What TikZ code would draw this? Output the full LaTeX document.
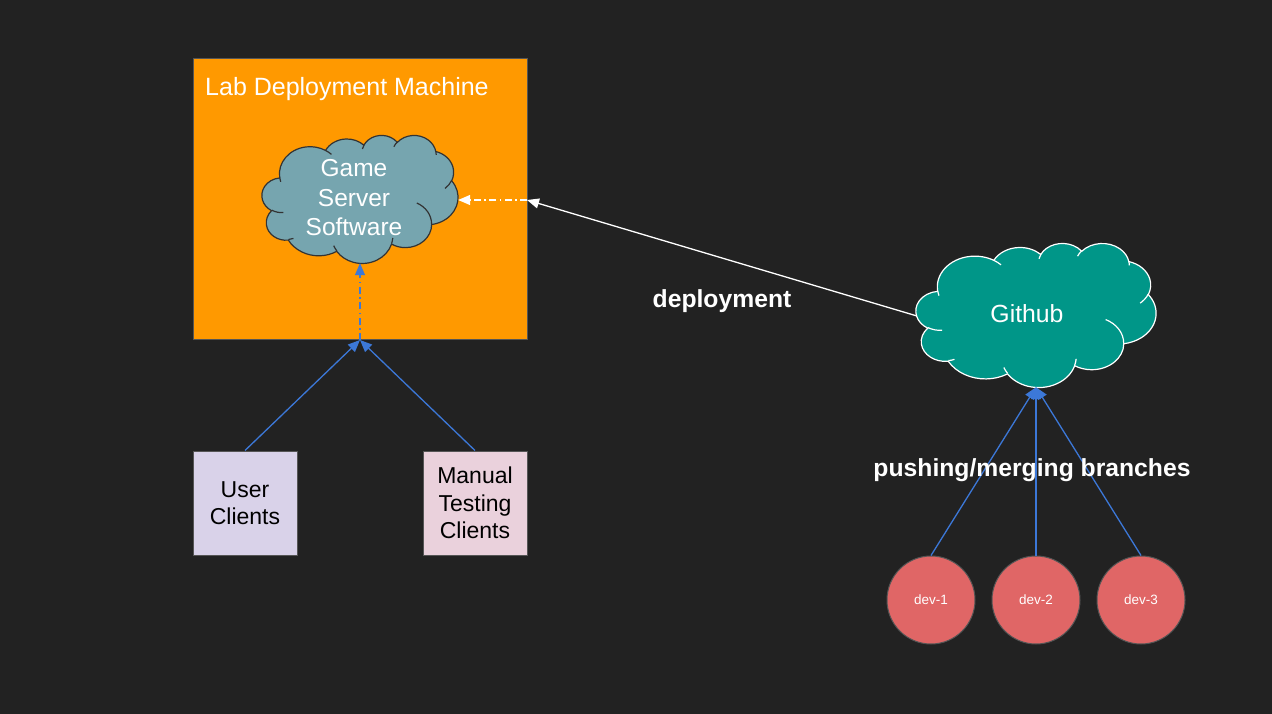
\documentclass[tikz,border=0pt]{standalone}
\usepackage{fontspec}
\setmainfont{Liberation Sans}
\usetikzlibrary{arrows.meta}
\definecolor{bg}{HTML}{222222}
\definecolor{orangebox}{HTML}{FF9900}
\definecolor{cloudblue}{HTML}{76A5AF}
\definecolor{ghteal}{HTML}{009688}
\definecolor{lav}{HTML}{D9D2E9}
\definecolor{pinkbox}{HTML}{EAD1DC}
\definecolor{devred}{HTML}{E06666}
\definecolor{linkblue}{HTML}{3C78D8}
\definecolor{edgegray}{HTML}{555555}
\definecolor{cloudedge}{HTML}{333333}
% elliptical arc with OOXML-style (visual) angles
\newcommand\oa[4]{arc[x radius=#1, y radius=#2, start angle={atan2((#1)*sin(#3),(#2)*cos(#3))}, delta angle={mod(atan2((#1)*sin((#3)+(#4)),(#2)*cos((#3)+(#4)))-atan2((#1)*sin(#3),(#2)*cos(#3))+720,360)}]}
\newcommand\cloudouter{(390,1437)
 \oa{675.3}{919.0}{-190.4875}{123.7805}
 \oa{533.3}{726.7}{-144.1024}{89.9452}
 \oa{436.5}{594.5}{-145.8079}{99.7230}
 \oa{485.7}{659.5}{-130.9861}{117.2417}
 \oa{533.3}{727.3}{-78.7089}{109.0269}
 \oa{677.5}{922.0}{-46.2673}{130.2690}
 \oa{578.5}{786.7}{0.6250}{114.0333}
 \oa{675.2}{921.5}{22.4516}{115.1726}
 \oa{772.0}{1054.3}{66.2426}{75.7110}
 \oa{436.0}{591.8}{-274.9421}{146.7356}
 \oa{434.5}{594.5}{-246.8285}{152.5226} -- cycle}
\newcommand\cloudinner{(469.3,2617.7) \oa{434.5}{594.5}{86.7420}{26.4295}
 (692.8,3489.9) \oa{436.0}{591.8}{73.6105}{11.4475}
 (1647.8,3909.0) \oa{675.2}{921.5}{137.6242}{14.0811}
 (2882.7,3475.1) \oa{675.2}{921.5}{6.4533}{15.9984}
 (3412.9,2295.4) \oa{578.5}{786.7}{-70.2924}{70.9174}
 (4179.8,1535.4) \oa{533.3}{727.3}{30.3180}{27.7515}
 (3832.4,542.6) \oa{485.7}{659.5}{-13.7443}{14.8589}
 (2907.8,395.2) \oa{485.7}{659.5}{-149.1815}{18.1954}
 (2214.1,472.0) \oa{436.5}{594.5}{-163.4943}{17.6864}
 (1400.0,519.2) \oa{675.3}{919.0}{-66.7070}{12.3194}
 (412.7,1578.9) \oa{675.3}{919.0}{157.6544}{11.8582}}
\tikzset{
  clientbox/.style={rectangle, draw=edgegray, line width=1pt, minimum width=104pt, minimum height=104pt, inner sep=0pt, align=center, font=\fontsize{23}{27.5}\selectfont},
  devnode/.style={circle, fill=devred, draw=edgegray, line width=1pt, minimum size=88pt, inner sep=0pt, text=white, font=\fontsize{13.5}{16}\selectfont},
  conn/.style={line width=1.3pt, -{Triangle[length=12pt,width=10pt]}},
  dashdot/.style={dash pattern=on 7pt off 3.5pt on 1.5pt off 3.5pt},
  lbl/.style={text=white, font=\fontsize{24.7}{29}\selectfont\bfseries},
  cloudbox/.style={rectangle, inner sep=0pt}
}
\begin{document}
\begin{tikzpicture}[x=1pt,y=-1pt]
\fill[bg] (0,0) rectangle (1272,714);
\useasboundingbox (0,0) rectangle (1272,714);
% orange box
\node[rectangle, fill=orangebox, draw=edgegray, line width=1pt, minimum width=334pt, minimum height=280pt, inner sep=0pt] (lab) at (360,199) {};
\node[anchor=west, text=white, font=\fontsize{25}{30}\selectfont, inner sep=0pt] (labtitle) at (205,89) {Lab Deployment Machine};
% game server cloud
\node[cloudbox, minimum width=196pt, minimum height=128pt] (gs) at (360,199) {};
\begin{scope}[shift={(262,135)}, xscale=0.0453704, yscale=0.0296296]
  \filldraw[fill=cloudblue, draw=cloudedge, line width=1.2pt] \cloudouter;
  \draw[cloudedge, line width=1.2pt] \cloudinner;
\end{scope}
\node[text=white, align=center, font=\fontsize{24.5}{29.5}\selectfont, inner sep=0pt] (gstext) at (354,198) {Game\\Server\\Software};
% github cloud
\node[cloudbox, minimum width=240pt, minimum height=144pt] (gh) at (1036,315) {};
\begin{scope}[shift={(916,243)}, xscale=0.0555556, yscale=0.0333333]
  \filldraw[fill=ghteal, draw=white, line width=1.2pt] \cloudouter;
  \draw[white, line width=1.2pt] \cloudinner;
\end{scope}
\node[text=white, font=\fontsize{24.8}{29}\selectfont, inner sep=0pt] (ghtext) at (1027,314) {Github};
% client boxes
\node[clientbox, fill=lav] (uc) at (245,503) {User\\Clients};
\node[clientbox, fill=pinkbox] (mt) at (475,503) {Manual\\Testing\\Clients};
% devs
\node[devnode] (d1) at (931,600) {dev-1};
\node[devnode] (d2) at (1036,600) {dev-2};
\node[devnode] (d3) at (1141,600) {dev-3};
% junction coordinates
\coordinate (gin) at (527,200);
\coordinate (cin) at (360,340);
\coordinate (gsright) at (gs.east |- gin);
\coordinate (ghleft) at (917,316);
% connectors
\draw[conn, white] (ghleft) -- (gin);
\draw[conn, white, dashdot] (gin) -- (gsright);
\draw[conn, linkblue] (uc.north) -- (cin);
\draw[conn, linkblue] (mt.north) -- (cin);
\draw[conn, linkblue, dashdot] (cin) -- (gs.south);
\draw[conn, linkblue] (d1.north) -- (gh.south);
\draw[conn, linkblue] (d2.north) -- (gh.south);
\draw[conn, linkblue] (d3.north) -- (gh.south);
% labels
\node[lbl, inner sep=0pt] (deplabel) at (722,301) {deployment};
\node[lbl, inner sep=0pt] (pushlabel) at (1032,470) {pushing/merging branches};
\end{tikzpicture}
\end{document}
